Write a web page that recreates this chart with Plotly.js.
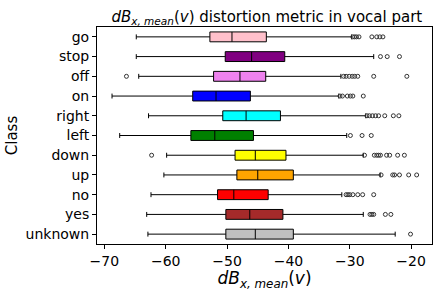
<!DOCTYPE html>
<html>
<head>
<meta charset="utf-8">
<script src="https://cdn.plot.ly/plotly-3.0.1.min.js"></script>
<style>html,body{margin:0;padding:0;background:#fff;}#chart{width:441px;height:291px;}</style>
</head>
<body>
<div id="chart"></div>
<script>
const categories = ["go","stop","off","on","right","left","down","up","no","yes","unknown"];
const colors = ["#FFC0CB","#800080","#EE82EE","#0000FF","#00FFFF","#008000","#FFFF00","#FFA500","#FF0000","#A52A2A","#C0C0C0"];
const lowerFence = [-64.8,-64.8,-64.4,-68.75,-62.8,-67.5,-59.85,-60.3,-62.4,-63.1,-62.9];
const q1 =         [-52.8,-50.3,-52.2,-55.6,-50.7,-55.9,-48.7,-48.4,-51.55,-50.2,-50.2];
const median =     [-49.2,-46.0,-47.9,-51.8,-46.9,-52.0,-45.4,-45.0,-48.9,-46.3,-45.4];
const q3 =         [-43.6,-40.6,-43.7,-46.2,-41.3,-45.7,-40.4,-39.2,-43.3,-40.9,-39.2];
const upperFence = [-29.7,-26.1,-31.45,-31.8,-27.4,-30.5,-27.8,-25.05,-31.3,-27.8,-22.6];
const outliers = [
  [-29.5,-29.2,-28.9,-28.5,-26.4,-25.6,-25.1,-24.6],
  [-25.0,-23.9,-21.9],
  [-66.4,-31.0,-30.6,-30.1,-29.6,-29.2,-28.7,-26.1,-20.7],
  [-31.6,-31.2,-30.4,-29.9,-29.5,-27.8],
  [-27.2,-26.8,-26.3,-25.8,-25.3,-24.3,-22.9,-22.0],
  [-29.9,-28.0,-26.5],
  [-62.3,-27.6,-26.0,-25.6,-25.3,-25.0,-24.0,-23.5,-22.2,-21.1],
  [-24.9,-23.0,-22.7,-21.9,-20.4,-19.1],
  [-30.6,-30.3,-30.0,-29.5,-28.7,-27.9,-26.1],
  [-26.7,-26.4,-26.1,-24.2,-23.3],
  [-20.1]
];
const xTicks = [-70,-60,-50,-40,-30,-20];
const xTickText = ["\u221270","\u221260","\u221250","\u221240","\u221230","\u221220"];

const traces = categories.map((c,i)=>({
  type:'box', orientation:'h', y:[c],
  q1:[q1[i]], median:[median[i]], q3:[q3[i]],
  lowerfence:[lowerFence[i]], upperfence:[upperFence[i]],
  boxpoints:false, width:0.5, whiskerwidth:0.5,
  fillcolor:colors[i], line:{color:'#000', width:1},
  showlegend:false, hoverinfo:'skip'
}));
const ox=[], oy=[];
categories.forEach((c,i)=>outliers[i].forEach(v=>{ox.push(v); oy.push(c);}));
traces.push({type:'scatter', mode:'markers', x:ox, y:oy,
  marker:{symbol:'circle-open', size:4, color:'#333', line:{width:1, color:'#333'}},
  showlegend:false, hoverinfo:'skip'});

const layout = {
  width:441, height:291,
  margin:{l:97, r:9, t:27, b:47},
  paper_bgcolor:'#fff', plot_bgcolor:'#fff',
  font:{family:'DejaVu Sans', size:14, color:'#000'},
  title:{text:'<i>dB</i><sub><i>x, mean</i></sub>(<i>v</i>) distortion metric in vocal part',
    font:{size:15, color:'#000'}, x:0.605, xanchor:'center', y:0.96, yanchor:'top'},
  xaxis:{range:[-71.2,-16.6], tickvals:xTicks, ticktext:xTickText,
    ticks:'outside', ticklen:4, tickcolor:'#000', showline:true, linecolor:'#000', linewidth:1,
    mirror:true, showgrid:false, zeroline:false, tickfont:{size:14},
    title:{text:'<i>dB</i><sub><i>x, mean</i></sub>(<i>v</i>)', font:{size:17}, standoff:0}},
  yaxis:{type:'category', categoryorder:'array', categoryarray:categories.slice().reverse(),
    range:[-0.5,10.5], ticks:'outside', ticklen:4, tickcolor:'#000',
    showline:true, linecolor:'#000', linewidth:1, mirror:true, showgrid:false, zeroline:false,
    tickfont:{size:14}, title:{text:'Class', font:{size:15}, standoff:4}}
};
Plotly.newPlot('chart', traces, layout, {staticPlot:true, displayModeBar:false});
</script>
</body>
</html>
